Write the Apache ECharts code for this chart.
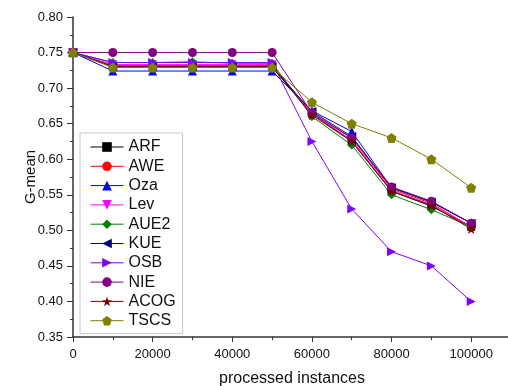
<!DOCTYPE html>
<html>
<head>
<meta charset="utf-8">
<script src="https://cdn.jsdelivr.net/npm/echarts@6/dist/echarts.min.js"></script>
<style>
  html, body { margin: 0; padding: 0; background: #fff; }
  #chart { width: 508px; height: 386px; }
</style>
</head>
<body>
<div id="chart"></div>
<script>
const instances = [0, 10000, 20000, 30000, 40000, 50000, 60000, 70000, 80000, 90000, 100000]

const arf  = [0.75, 0.730, 0.730, 0.730, 0.730, 0.730, 0.664, 0.625, 0.555, 0.534, 0.505]
const awe  = [0.75, 0.732, 0.732, 0.732, 0.732, 0.732, 0.664, 0.630, 0.558, 0.538, 0.505]
const oza  = [0.75, 0.724, 0.724, 0.724, 0.724, 0.724, 0.668, 0.639, 0.560, 0.540, 0.510]
const lev  = [0.75, 0.733, 0.733, 0.733, 0.733, 0.733, 0.664, 0.627, 0.556, 0.536, 0.505]
const aue2 = [0.75, 0.736, 0.736, 0.737, 0.735, 0.735, 0.660, 0.620, 0.550, 0.529, 0.505]
const kue  = [0.75, 0.730, 0.730, 0.730, 0.730, 0.730, 0.667, 0.632, 0.560, 0.540, 0.510]
const osb  = [0.75, 0.736, 0.736, 0.736, 0.736, 0.736, 0.625, 0.530, 0.470, 0.450, 0.400]
const nie  = [0.75, 0.750, 0.750, 0.750, 0.750, 0.750, 0.665, 0.630, 0.561, 0.541, 0.510]
const acog = [0.75, 0.730, 0.730, 0.730, 0.730, 0.730, 0.662, 0.625, 0.555, 0.535, 0.502]
const tscs = [0.75, 0.729, 0.729, 0.729, 0.729, 0.729, 0.680, 0.650, 0.630, 0.600, 0.560]

const star = 'path://M0,-10 L2.35,-3.24 L9.51,-3.09 L3.8,1.24 L5.88,8.09 L0,4 L-5.88,8.09 L-3.8,1.24 L-9.51,-3.09 L-2.35,-3.24 Z'
const pentagon = 'path://M0,-10 L9.51,-3.09 L5.88,8.09 L-5.88,8.09 L-9.51,-3.09 Z'

const lines = [
  { name: 'ARF',  data: arf,  color: '#000000', symbol: 'rect', size: 8, rotate: 0 },
  { name: 'AWE',  data: awe,  color: '#ff0000', symbol: 'circle', size: 8, rotate: 0 },
  { name: 'Oza',  data: oza,  color: '#0000ff', symbol: 'triangle', size: 9, rotate: 0 },
  { name: 'Lev',  data: lev,  color: '#ff00ff', symbol: 'triangle', size: 9, rotate: 180 },
  { name: 'AUE2', data: aue2, color: '#008000', symbol: 'diamond', size: 9, rotate: 0 },
  { name: 'KUE',  data: kue,  color: '#000080', symbol: 'triangle', size: 9, rotate: 90 },
  { name: 'OSB',  data: osb,  color: '#8000ff', symbol: 'triangle', size: 9, rotate: -90 },
  { name: 'NIE',  data: nie,  color: '#800080', symbol: 'circle', size: 9, rotate: 0 },
  { name: 'ACOG', data: acog, color: '#800000', symbol: star, size: 10, rotate: 0 },
  { name: 'TSCS', data: tscs, color: '#808000', symbol: pentagon, size: 10, rotate: 0 }
]

const chart = echarts.init(document.getElementById('chart'))
const font = 'Liberation Sans, Arial, sans-serif'

chart.setOption({
  animation: false,
  backgroundColor: '#fff',
  textStyle: { fontFamily: font },
  grid: { left: 73, right: -3, top: 17, bottom: 49, outerBoundsMode: 'none' },
  legend: {
    orient: 'vertical',
    left: 80,
    top: 133,
    padding: [6, 7, 5, 10],
    itemWidth: 33,
    itemHeight: 12,
    itemGap: 3.3,
    borderColor: '#c8c8c8',
    borderWidth: 1,
    lineStyle: { width: 1 },
    textStyle: { fontFamily: font, fontSize: 16, color: '#111' },
    data: lines.map(l => l.name)
  },
  xAxis: {
    type: 'value',
    min: 0,
    max: 110000,
    interval: 20000,
    name: 'processed instances',
    nameLocation: 'middle',
    nameGap: 34,
    nameMoveOverlap: false,
    nameTextStyle: { fontSize: 16, color: '#111', fontFamily: font },
    axisLine: { onZero: false, lineStyle: { color: '#333', width: 1.5 } },
    axisTick: { length: 5, lineStyle: { color: '#333' } },
    minorTick: { show: true, splitNumber: 2, length: 3, lineStyle: { color: '#333' } },
    axisLabel: { fontSize: 13, color: '#111', showMaxLabel: false, margin: 11, formatter: v => String(v) },
    splitLine: { show: false }
  },
  yAxis: {
    type: 'value',
    min: 0.35,
    max: 0.80,
    interval: 0.05,
    name: 'G-mean',
    nameLocation: 'middle',
    nameGap: 35,
    nameMoveOverlap: false,
    nameTextStyle: { fontSize: 15, color: '#111', fontFamily: font },
    axisLine: { onZero: false, lineStyle: { color: '#333', width: 1.5 } },
    axisTick: { length: 6, lineStyle: { color: '#333' } },
    minorTick: { show: true, splitNumber: 2, length: 3, lineStyle: { color: '#333' } },
    axisLabel: { fontSize: 13, color: '#111', formatter: v => v.toFixed(2), margin: 10 },
    splitLine: { show: false }
  },
  series: lines.map(l => ({
    name: l.name,
    type: 'line',
    data: instances.map((x, i) => [x, l.data[i]]),
    symbol: l.symbol,
    symbolSize: l.size,
    symbolRotate: l.rotate,
    showAllSymbol: true,
    lineStyle: { color: l.color, width: 1 },
    itemStyle: { color: l.color }
  }))
})
</script>
</body>
</html>
